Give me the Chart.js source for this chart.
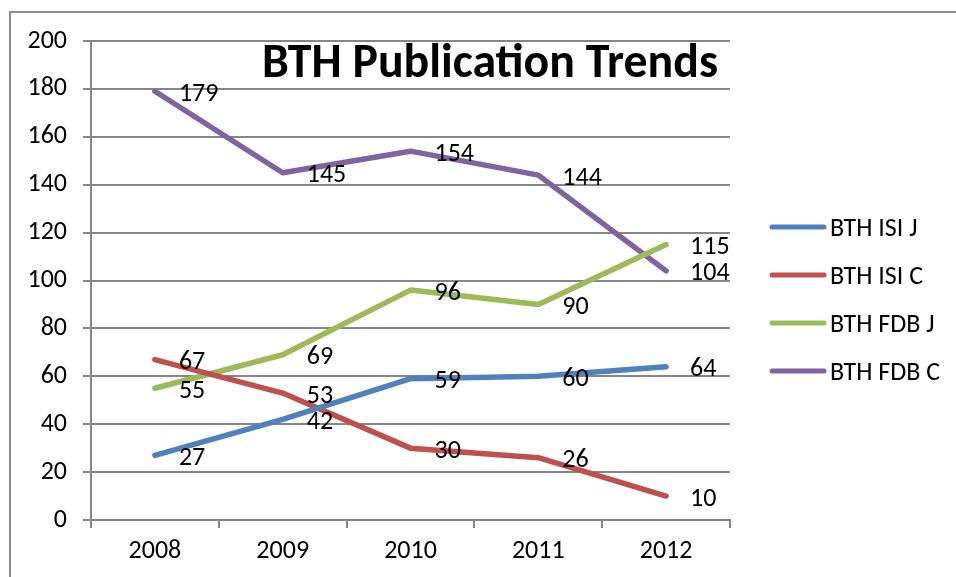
<!DOCTYPE html>
<html>
<head>
<meta charset="utf-8">
<script src="https://cdn.jsdelivr.net/npm/chart.js@4"></script>
<style>
  html, body { margin: 0; padding: 0; background: #fff; }
  #wrap { position: relative; width: 956px; height: 577px; }
  #frame { position: absolute; left: 9px; top: 11px; width: 960px; height: 580px;
           border-left: 2px solid #8c8c8c; border-top: 2px solid #8c8c8c; }
</style>
</head>
<body>
<div id="wrap">
  <div id="frame"></div>
  <canvas id="myChart" width="956" height="577"></canvas>
</div>
<script>
var years = ["2008", "2009", "2010", "2011", "2012"];
var isiJ = [27, 42, 59, 60, 64];
var isiC = [67, 53, 30, 26, 10];
var fdbJ = [55, 69, 96, 90, 115];
var fdbC = [179, 145, 154, 144, 104];
var seriesNames = ["BTH ISI J", "BTH ISI C", "BTH FDB J", "BTH FDB C"];
var seriesColors = ["#4F81BD", "#C0504D", "#9BBB59", "#8064A2"];
var chartTitle = "BTH Publication Trends";

var FONT = "Carlito, Lato, 'Noto Sans', sans-serif";

// data labels, title and legend drawn by hand
var extras = {
   id: 'extras',
   afterDatasetsDraw: function(chart) {
      var ctx = chart.ctx;
      ctx.save();
      ctx.fillStyle = '#000';
      ctx.font = '26px ' + FONT;
      ctx.textAlign = 'left';
      ctx.textBaseline = 'middle';
      chart.data.datasets.forEach(function(ds, i) {
         chart.getDatasetMeta(i).data.forEach(function(pt, j) {
            ctx.fillText(String(ds.data[j]), pt.x + 24, pt.y + 3);
         });
      });

      // title
      ctx.font = 'bold 40px ' + FONT;
      var w = ctx.measureText(chartTitle).width;
      var size = 40 * 456 / w;
      ctx.font = 'bold ' + size + 'px ' + FONT;
      ctx.textAlign = 'center';
      ctx.textBaseline = 'alphabetic';
      ctx.fillText(chartTitle, 490, 77);

      // legend
      ctx.font = '26px ' + FONT;
      ctx.textAlign = 'left';
      ctx.textBaseline = 'middle';
      ctx.lineCap = 'round';
      ctx.lineWidth = 5;
      seriesNames.forEach(function(name, i) {
         var y = 227 + i * 48;
         ctx.strokeStyle = seriesColors[i];
         ctx.beginPath();
         ctx.moveTo(772, y);
         ctx.lineTo(824, y);
         ctx.stroke();
         ctx.fillText(name, 830, y + 2);
      });
      ctx.restore();
   }
};

var allSeries = [isiJ, isiC, fdbJ, fdbC];
var chrt = document.getElementById("myChart").getContext("2d");
var chartId = new Chart(chrt, {
   type: 'line',
   data: {
      labels: years,
      datasets: allSeries.map(function(d, i) {
         return {
            label: seriesNames[i],
            data: d,
            borderColor: seriesColors[i],
            backgroundColor: seriesColors[i],
            borderWidth: 5.5,
            borderCapStyle: 'round',
            borderJoinStyle: 'round',
            pointRadius: 0,
            tension: 0,
            fill: false
         };
      })
   },
   options: {
      responsive: false,
      animation: false,
      layout: { padding: { left: 0, top: 41, right: 226, bottom: 0 } },
      plugins: {
         legend: { display: false },
         title: { display: false },
         tooltip: { enabled: false }
      },
      scales: {
         x: {
            offset: true,
            afterFit: function(s) { s.height = 57; },
            grid: {
               offset: true,
               drawOnChartArea: false,
               drawTicks: true,
               tickLength: 8,
               color: '#868686',
               lineWidth: 2
            },
            border: { color: '#868686', width: 2 },
            ticks: { color: '#000', font: { family: FONT, size: 26 }, padding: 8, maxRotation: 0 }
         },
         y: {
            min: 0,
            max: 200,
            afterFit: function(s) { s.width = 91; },
            grid: {
               color: '#868686',
               lineWidth: 2,
               tickLength: 8,
               drawTicks: true
            },
            border: { color: '#868686', width: 2 },
            ticks: { stepSize: 20, color: '#000', font: { family: FONT, size: 26 }, padding: 16 }
         }
      }
   },
   plugins: [extras]
});
</script>
</body>
</html>
